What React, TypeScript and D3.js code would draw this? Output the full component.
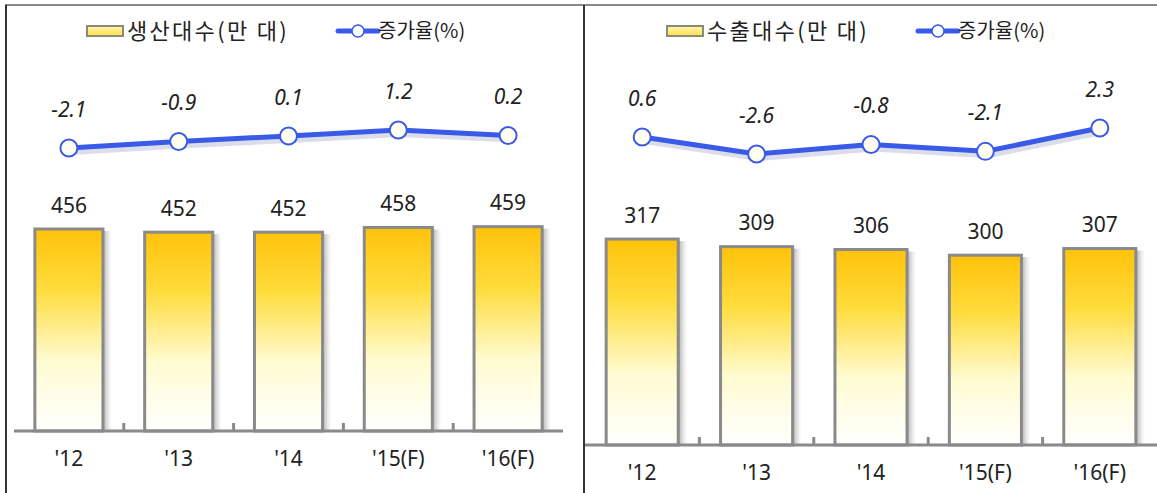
import React from "react";
import * as d3 from "d3";

const categories = ["'12", "'13", "'14", "'15(F)", "'16(F)"];
const productionUnits = [456, 452, 452, 458, 459];
const productionGrowth = [-2.1, -0.9, 0.1, 1.2, 0.2];
const exportUnits = [317, 309, 306, 300, 307];
const exportGrowth = [0.6, -2.6, -0.8, -2.1, 2.3];
const productionLabel = "생산대수(만 대)";
const exportLabel = "수출대수(만 대)";
const growthLabel = "증가율(%)";

type PanelProps = {
  x0: number;
  x1: number;
  axisY: number;
  units: number[];
  growth: number[];
  barDomain: [number, number];
  barRange: [number, number];
  lineDomain: [number, number];
  lineRange: [number, number];
  barLabel: string;
  legendX: number;
  barPad: number;
};

const FONT = "'Noto Sans CJK KR', 'Noto Sans', sans-serif";
const NUMFONT = "'Noto Sans', 'DejaVu Sans', sans-serif";

function Panel(p: PanelProps) {
  const x = d3.scaleBand<string>().domain(categories).range([p.x0, p.x1]).paddingInner(p.barPad).paddingOuter(p.barPad / 2);
  const step = x.step();
  const yb = d3.scaleLinear().domain(p.barDomain).range(p.barRange);
  const yl = d3.scaleLinear().domain(p.lineDomain).range(p.lineRange);
  const cx = (c: string) => (x(c) ?? 0) + x.bandwidth() / 2;
  const pts: [number, number][] = categories.map((c, i) => [cx(c), yl(p.growth[i])]);
  const line = d3.line();
  const bw = x.bandwidth();
  return (
    <g>
      <g transform={`translate(${p.legendX},31)`}>
        <rect x={1} y={-5} width={36} height={10} fill="url(#legBar)" stroke="#8a8a7a" strokeWidth={2} />
        <text x={41} y={0} dy="0.36em" fontSize={22} letterSpacing={2.3} fontFamily={FONT} fill="#222">{p.barLabel}</text>
        <line x1={252} x2={292} y1={0} y2={0} stroke="#3a5ae8" strokeWidth={5} strokeLinecap="round" />
        <circle cx={272} cy={0} r={6} fill="#fff" stroke="#3a5ae8" strokeWidth={1.5} />
        <text x={292} y={0} dy="0.36em" fontSize={20} letterSpacing={0} fontFamily={FONT} fill="#222">{growthLabel}</text>
      </g>
      {categories.map((c, i) => {
        const bx = x(c) ?? 0;
        const top = yb(p.units[i]);
        return (
          <g key={c}>
            <rect x={bx + bw} y={top + 2} width={9} height={p.axisY - top - 2} fill="url(#shadow)" />
            <rect x={bx} y={top} width={bw} height={p.axisY - top} fill="url(#barGrad)" stroke="#8a8a8a" strokeWidth={3} />
            <text x={cx(c)} y={top - 24} dy="0.36em" textAnchor="middle" fontSize={21} fontFamily={NUMFONT} fill="#222">{p.units[i]}</text>
          </g>
        );
      })}
      <line x1={p.x0} x2={p.x1} y1={p.axisY} y2={p.axisY} stroke="#8a8a8a" strokeWidth={3} />
      {categories.slice(1).map((c) => {
        const tx = (x(c) ?? 0) - (step - bw) / 2;
        return <rect key={c} x={tx - 1.5} y={p.axisY - 8} width={3} height={7} fill="#8a8a8a" />;
      })}
      {categories.map((c) => (
        <text key={c} x={cx(c)} y={p.axisY + 27} dy="0.36em" textAnchor="middle" fontSize={21} fontFamily={NUMFONT} fill="#222">{c}</text>
      ))}
      <path d={line(pts.map(([a, b]) => [a + 2, b + 4]) as [number, number][]) ?? ""} fill="none" stroke="#b8bbd8" strokeWidth={6} opacity={0.5} />
      <path d={line(pts) ?? ""} fill="none" stroke="#3a5ae8" strokeWidth={5} strokeLinejoin="round" />
      {pts.map(([a, b], i) => (
        <g key={i}>
          <circle cx={a} cy={b} r={8.5} fill="#fffef0" stroke="#3a5ae8" strokeWidth={2} />
          <text x={a} y={b - 39} dy="0.36em" textAnchor="middle" fontSize={21} fontStyle="italic" fontFamily={NUMFONT} fill="#222">{p.growth[i].toFixed(1)}</text>
        </g>
      ))}
    </g>
  );
}

export default function App() {
  return (
    <svg width={1157} height={493} style={{ position: "absolute", left: 0, top: 0, background: "#fff" }}>
      <defs>
        <linearGradient id="barGrad" x1="0" y1="0" x2="0" y2="1">
          <stop offset="0" stopColor="#ffc20a" />
          <stop offset="0.3" stopColor="#ffdc3c" />
          <stop offset="0.65" stopColor="#fffbd0" />
          <stop offset="1" stopColor="#ffffff" />
        </linearGradient>
        <linearGradient id="legBar" x1="0" y1="0" x2="0" y2="1">
          <stop offset="0" stopColor="#fff6b0" />
          <stop offset="1" stopColor="#ffe04a" />
        </linearGradient>
        <linearGradient id="shadow" x1="0" y1="0" x2="1" y2="0">
          <stop offset="0" stopColor="#999" stopOpacity={0.8} />
          <stop offset="1" stopColor="#ccc" stopOpacity={0} />
        </linearGradient>
      </defs>
      <line x1={5} x2={1157} y1={5} y2={5} stroke="#888" strokeWidth={2} />
      <line x1={6} x2={6} y1={5} y2={493} stroke="#333" strokeWidth={2} />
      <line x1={584} x2={584} y1={5} y2={493} stroke="#333" strokeWidth={2} />
      <Panel x0={14} x1={563} axisY={431} units={productionUnits} growth={productionGrowth}
        barDomain={[200, 500]} barRange={[431, 431 - 300 * 0.789]} lineDomain={[-2.1, 1.2]} lineRange={[148, 130]}
        barLabel={productionLabel} legendX={86} barPad={0.38} />
      <Panel x0={585} x1={1157} axisY={445} units={exportUnits} growth={exportGrowth}
        barDomain={[100, 400]} barRange={[445, 445 - 300 * 0.949]} lineDomain={[-2.6, 2.3]} lineRange={[154, 128]}
        barLabel={exportLabel} legendX={666} barPad={0.37} />
    </svg>
  );
}
